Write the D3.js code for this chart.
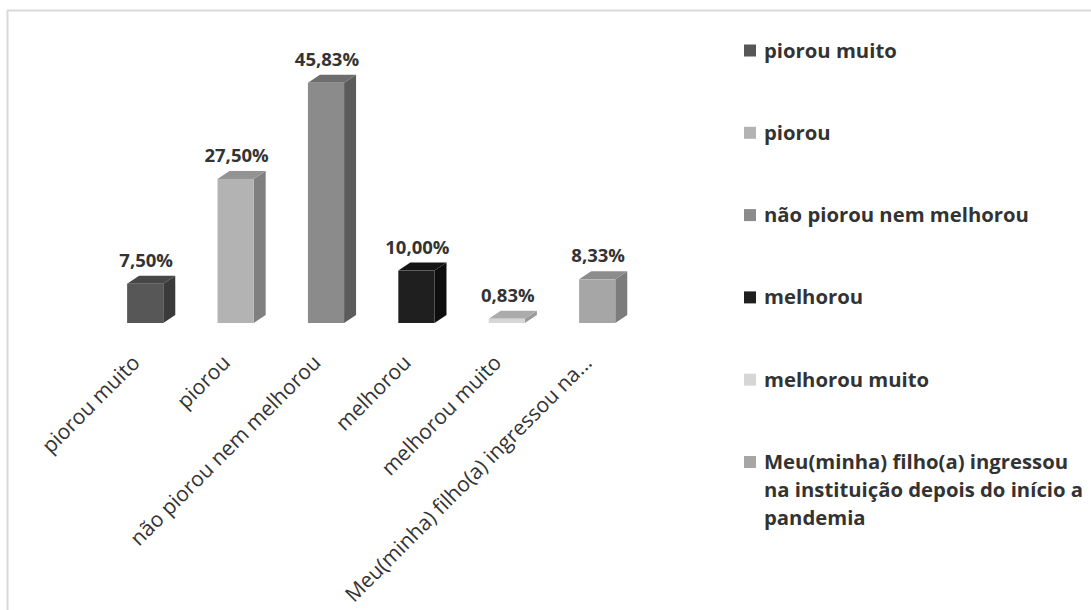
<!DOCTYPE html>
<html>
<head>
<meta charset="utf-8">
<script src="https://cdn.jsdelivr.net/npm/d3@7"></script>
<style>
  body { margin: 0; background: #fff; }
  text { font-family: "Open Sans", sans-serif; }
</style>
</head>
<body>
<div id="main"></div>
<script>
// data
var categories = ["piorou muito", "piorou", "não piorou nem melhorou", "melhorou", "melhorou muito", "Meu(minha) filho(a) ingressou na instituição depois do início a pandemia"];
var values = [7.50, 27.50, 45.83, 10.00, 0.83, 8.33];
var tickLabels = ["piorou muito", "piorou", "não piorou nem melhorou", "melhorou", "melhorou muito", "Meu(minha) filho(a) ingressou na..."];
var legendLines = [
  ["piorou muito"],
  ["piorou"],
  ["não piorou nem melhorou"],
  ["melhorou"],
  ["melhorou muito"],
  ["Meu(minha) filho(a) ingressou", "na instituição depois do início a", "pandemia"]
];
var fronts = ["#575757", "#b3b3b3", "#8b8b8b", "#1f1f1f", "#d6d6d6", "#a6a6a6"];
var tops = ["#474747", "#939393", "#6e6e6e", "#151515", "#ababab", "#8c8c8c"];
var sides = ["#3a3a3a", "#808080", "#5c5c5c", "#0e0e0e", "#9a9a9a", "#7c7c7c"];

var W = 1091, H = 610;
var depthX = 12, depthY = 8;

var svg = d3.select('#main')
  .append("svg")
  .attr('width', W)
  .attr('height', H);

// frame lines
svg.append("line").attr("x1", 7).attr("x2", W).attr("y1", 10.5).attr("y2", 10.5)
  .attr("stroke", "#d9d9d9").attr("stroke-width", 2);
svg.append("line").attr("x1", 7.5).attr("x2", 7.5).attr("y1", 10).attr("y2", H)
  .attr("stroke", "#d9d9d9").attr("stroke-width", 2);

var xScale = d3.scaleBand()
  .domain(categories)
  .range([100, 642.4])
  .paddingInner(0.6)
  .paddingOuter(0.3);

var yScale = d3.scaleLinear()
  .domain([0, 50])
  .range([323, 61]);

var bw = xScale.bandwidth();

var bars = svg.selectAll('.bar')
  .data(categories)
  .enter()
  .append('g')
  .attr('class', 'bar');

// side face
bars.append('path')
  .attr('d', function (d, i) {
    var x1 = xScale(d) + bw, y0 = yScale(0), y1 = yScale(values[i]);
    return "M" + x1 + "," + y1 + "L" + (x1 + depthX) + "," + (y1 - depthY) +
      "L" + (x1 + depthX) + "," + (y0 - depthY) + "L" + x1 + "," + y0 + "Z";
  })
  .attr('fill', (d, i) => sides[i]);

// top face
bars.append('path')
  .attr('d', function (d, i) {
    var x0 = xScale(d), y1 = yScale(values[i]);
    return "M" + x0 + "," + y1 + "L" + (x0 + depthX) + "," + (y1 - depthY) +
      "L" + (x0 + bw + depthX) + "," + (y1 - depthY) + "L" + (x0 + bw) + "," + y1 + "Z";
  })
  .attr('fill', (d, i) => tops[i]);

// front face
bars.append('rect')
  .attr('x', d => xScale(d))
  .attr('y', (d, i) => yScale(values[i]))
  .attr('width', bw)
  .attr('height', (d, i) => yScale(0) - yScale(values[i]))
  .attr('fill', (d, i) => fronts[i]);

// value labels
bars.append('text')
  .attr('x', d => xScale(d) + bw / 2 + 1)
  .attr('y', (d, i) => yScale(values[i]) - depthY - 9)
  .style('text-anchor', 'middle')
  .style('font-weight', 700)
  .style('font-size', '18.5px')
  .style('fill', '#333')
  .text((d, i) => d3.format('.2f')(values[i]).replace('.', ',') + '%');

// x axis
var xAxis = svg.append("g")
  .attr("transform", "translate(0," + yScale(0) + ")")
  .call(d3.axisBottom(xScale).tickSize(0).tickFormat((d, i) => tickLabels[i]));

xAxis.select('.domain').remove();

xAxis.selectAll("text")
  .attr("y", 0)
  .attr("dy", 0)
  .attr("transform", "translate(-4,41) rotate(-45)")
  .style("text-anchor", "end")
  .style("font-size", "21px")
  .style("font-family", '"Open Sans", sans-serif')
  .style("fill", "#333");

// legend
var legend = svg.selectAll('.legend')
  .data(categories)
  .enter()
  .append("g")
  .attr("class", "legend")
  .attr("transform", (d, i) => "translate(744," + (50.5 + i * 82.3) + ")");

legend.append("rect")
  .attr("x", 0)
  .attr("y", -6)
  .attr("width", 12)
  .attr("height", 12)
  .style("fill", (d, i) => fronts[i]);

legend.append("text")
  .attr("x", 20)
  .attr("y", 7)
  .style('font-size', "20.3px")
  .style('font-weight', 700)
  .style('fill', '#333')
  .selectAll('tspan')
  .data((d, i) => legendLines[i])
  .enter()
  .append('tspan')
  .attr('x', 20)
  .attr('dy', (d, j) => j === 0 ? 0 : 28)
  .text(d => d);
</script>
</body>
</html>
